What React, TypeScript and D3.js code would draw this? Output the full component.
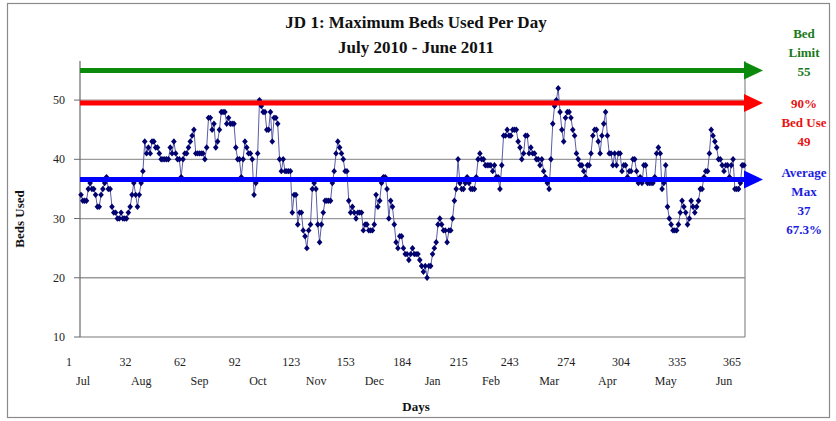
import * as d3 from "d3";

const dayTicks = [1, 32, 62, 92, 123, 153, 184, 215, 243, 274, 304, 335, 365];
const monthLabels = ["Jul", "Aug", "Sep", "Oct", "Nov", "Dec", "Jan", "Feb", "Mar", "Apr", "May", "Jun"];
const yTicks = [10, 20, 30, 40, 50];
const gridTicks = [20, 30, 40, 50];

// maximum beds used, day 1 (1 Jul 2010) .. day 365 (30 Jun 2011)
const maxBedsUsed = [
  34, 33, 33, 33, 35, 36, 35, 35, 34, 32, 32, 34, 35, 36, 37, 35, 35, 32, 31, 31,
  30, 30, 31, 30, 30, 30, 31, 32, 34, 36, 34, 32, 34, 36, 38, 43, 41, 42, 41, 43,
  43, 42, 42, 41, 40, 40, 40, 40, 40, 42, 41, 43, 41, 40, 40, 37, 40, 41, 41, 42,
  43, 44, 45, 41, 41, 41,
  41, 41, 40, 42, 47, 47, 45, 46, 42, 43, 45, 48, 48, 48, 46, 47, 46, 46, 46, 42,
  40, 40, 37, 40, 43, 42, 41, 41, 40, 34, 36, 41, 50, 49, 48, 48, 45, 45, 48, 43,
  47, 47, 46, 40, 38, 40, 38, 38, 38, 38, 31, 34, 34, 29, 31, 31, 28, 27, 25, 28,
  29, 35, 36, 35, 29, 26, 29, 31, 33, 33, 33, 33, 36, 38,
  41, 43, 42, 41, 40, 38, 38, 33, 31, 32, 31, 30, 31, 31, 31, 28, 29, 29, 28, 28,
  28, 29, 34, 32, 33, 36, 37, 37, 35, 30, 33, 32, 29, 26, 25, 27, 27, 25, 24, 24,
  23, 24, 25, 24, 24, 24, 23, 22, 21, 22, 20, 22, 22, 24, 25, 26, 29, 30, 29, 28,
  28, 26, 28, 28, 30, 33, 35, 40, 36, 35, 35, 36, 37,
  36, 35, 35, 35, 37, 40, 41, 40, 40, 39, 39, 39, 39, 38, 39, 37, 37, 35, 39, 44,
  44, 45, 44, 44, 45, 45, 45, 43, 42, 40, 41, 44, 44, 41, 42, 41, 41, 40, 40, 39,
  40, 38, 37, 36, 35, 40, 46, 49, 50, 52, 48, 45, 43, 47, 48, 48, 47, 45, 44, 41,
  40, 39, 39, 38, 37, 39, 39, 41, 44, 45, 45, 43, 41, 44,
  46, 48, 44, 41, 41, 39, 41, 39, 41, 41, 38, 39, 39, 37, 38, 38, 40, 40, 38, 36,
  37, 36, 39, 39, 36, 36, 36, 36, 37, 41, 42, 41, 35, 36, 39, 32, 30, 29, 28, 28,
  28, 29, 31, 33, 32, 31, 29, 30, 33, 32, 31, 32, 33, 35, 35, 37, 38, 38, 41, 45,
  44, 43, 42, 40, 40, 39, 38, 39, 39, 37, 39, 40, 35, 35, 35, 36, 39, 39,
];

const bedLimit = 55;
const bedUse90 = 49.5;
const averageMax = 36.6;

const refNames = ["limit", "use90", "average"];
const refValues = [bedLimit, bedUse90, averageMax];
const refColors = ["#0b8a0b", "#ff0000", "#0000ff"];
const refTextColors = ["#1a7a1a", "#e81414", "#1c1ce0"];
const refLabels = [
  ["Bed", "Limit", "55"],
  ["90%", "Bed Use", "49"],
  ["Average", "Max", "37", "67.3%"],
];

const FONT = "'Liberation Serif', 'DejaVu Serif', serif";

export default function App() {
  const width = 836;
  const height = 421;
  const plotLeft = 80;
  const plotRight = 745;
  const x = d3.scaleLinear().domain([1, 365]).range([81, 744]);
  const y = d3.scaleLinear().domain([10, 56.6]).range([337, 61]);
  const months = d3
    .scalePoint<string>()
    .domain(monthLabels)
    .range([x(1) + 2, x(365) - 20]);

  const line = d3
    .line<number>()
    .x((_, i) => x(i + 1))
    .y((d) => y(d));

  // first text line position relative to each arrow
  const labelShift = [-37, 0, -7];

  return (
    <svg
      width={width}
      height={height}
      viewBox={`0 0 ${width} ${height}`}
      style={{ position: "absolute", left: 0, top: 0, background: "#fff" }}
      fontFamily={FONT}
    >
      <rect x={7.5} y={3.5} width={822} height={414} fill="#fff" stroke="#8a8a8a" strokeWidth={1.2} />

      <text x={416} y={28} textAnchor="middle" fontSize={17} fontWeight="bold" fill="#111">
        JD 1: Maximum Beds Used Per Day
      </text>
      <text x={416} y={53} textAnchor="middle" fontSize={17} fontWeight="bold" fill="#111">
        July 2010 - June 2011
      </text>

      {gridTicks.map((t) => (
        <line key={`g-${t}`} x1={plotLeft} x2={plotRight} y1={y(t)} y2={y(t)} stroke="#9a9a9a" strokeWidth={1.3} />
      ))}
      <line x1={plotLeft} x2={plotRight} y1={y(10)} y2={y(10)} stroke="#7a7a7a" strokeWidth={1.2} />
      <line x1={plotLeft} x2={plotLeft} y1={y.range()[1]} y2={y(10)} stroke="#6a6a6a" strokeWidth={1.2} />
      <line x1={plotRight} x2={plotRight} y1={y.range()[1]} y2={y(10)} stroke="#8a8a8a" strokeWidth={1.2} />

      {yTicks.map((t) => (
        <g key={`y-${t}`}>
          <line x1={plotLeft - 6} x2={plotLeft} y1={y(t)} y2={y(t)} stroke="#6a6a6a" />
          <text x={plotLeft - 15} y={y(t) + 4} textAnchor="end" fontSize={12} fill="#222">
            {t}
          </text>
        </g>
      ))}

      {dayTicks.map((d) => (
        <text key={`d-${d}`} x={x(d) - 12} y={366} textAnchor="middle" fontSize={12} fill="#222">
          {d}
        </text>
      ))}
      {monthLabels.map((m) => (
        <text key={`m-${m}`} x={months(m)} y={385} textAnchor="middle" fontSize={12} fill="#222">
          {m}
        </text>
      ))}

      <text x={416} y={411} textAnchor="middle" fontSize={13} fontWeight="bold" fill="#111">
        Days
      </text>
      <text
        transform={`translate(24, ${(y(10) + y.range()[1]) / 2 + 20}) rotate(-90)`}
        textAnchor="middle"
        fontSize={13}
        fontWeight="bold"
        fill="#111"
      >
        Beds Used
      </text>

      <path d={line(maxBedsUsed) ?? ""} fill="none" stroke="#5c5ca6" strokeWidth={1} />
      {maxBedsUsed.map((v, i) => (
        <path
          key={`p-${i}`}
          transform={`translate(${x(i + 1)}, ${y(v)})`}
          d="M0,-3.2L2.8,0L0,3.2L-2.8,0Z"
          fill="#00006e"
        />
      ))}

      {refNames.map((name, k) => {
        const yy = y(refValues[k]);
        return (
          <g key={name}>
            <line x1={plotLeft} x2={plotRight} y1={yy} y2={yy} stroke={refColors[k]} strokeWidth={5} />
            <polygon
              points={`${plotRight - 1},${yy - 9} ${plotRight + 18},${yy} ${plotRight - 1},${yy + 9}`}
              fill={refColors[k]}
            />
            {refLabels[k].map((s, j) => (
              <text
                key={s}
                x={804}
                y={yy + labelShift[k] + j * 19 + 4.5}
                textAnchor="middle"
                fontSize={13}
                fontWeight="bold"
                fill={refTextColors[k]}
              >
                {s}
              </text>
            ))}
          </g>
        );
      })}
    </svg>
  );
}
